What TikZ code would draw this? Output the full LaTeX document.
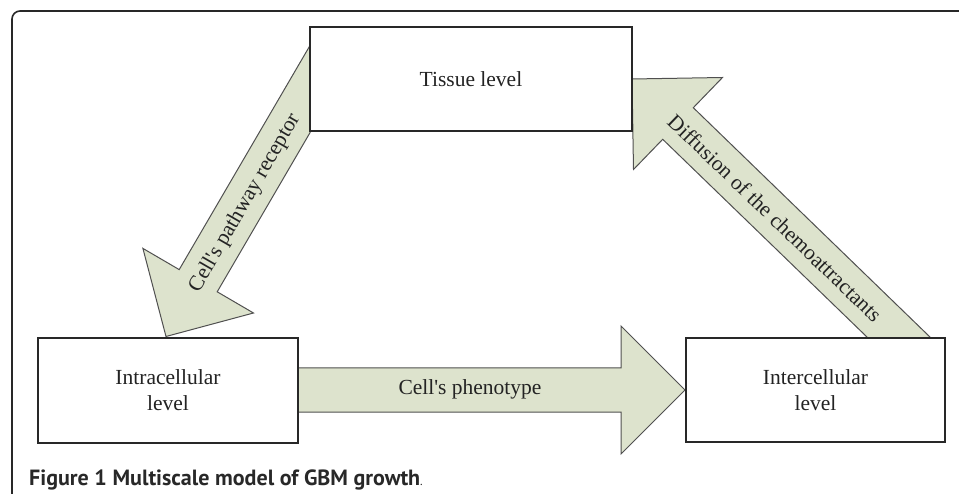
\documentclass[tikz,border=0pt]{standalone}
\usepackage{fontspec}
\setmainfont{Liberation Serif}
\newfontfamily\capfont{PT Sans}
\definecolor{arrowfill}{RGB}{221,227,205}
\definecolor{arrowline}{RGB}{80,80,80}
\definecolor{boxline}{RGB}{40,40,40}
\definecolor{txt}{RGB}{35,35,35}
\begin{document}
\begin{tikzpicture}[x=1pt,y=-1pt,
  levelbox/.style={draw=boxline, line width=1.3pt, fill=white, inner sep=0pt, align=center,
    text=txt, font=\fontsize{21.5}{26}\selectfont},
  bigarrow/.style={draw=arrowline, line width=1pt, fill=arrowfill, line join=miter},
  arrowtext/.style={text=txt, font=\fontsize{21.5}{26}\selectfont, inner sep=0pt}]
\useasboundingbox (0,0) rectangle (959,494);
% frame
\draw[line width=1.6pt, color=boxline, rounded corners=8pt] (959,11) -- (12,11) -- (12,494);
% block arrows
\draw[bigarrow] (297,368) -- (621,368) -- (621,326) -- (685,390) -- (621,454) -- (621,412) -- (297,412) -- cycle;
\draw[bigarrow] (310,45.5) -- (179.2,269.6) -- (142.9,248.4) -- (166,336.5) -- (253.5,313) -- (217.2,291.8) -- (310,132.7) -- cycle;
\draw[bigarrow] (868,338) -- (662.7,139.3) -- (633.5,169.5) -- (632,79) -- (722.5,77.5) -- (693.3,107.7) -- (931,338) -- cycle;
% boxes
\node[levelbox, minimum width=322pt, minimum height=104pt] (tissue) at (471,79) {Tissue level};
\node[levelbox, minimum width=260pt, minimum height=105pt] (intra) at (168,390.5) {Intracellular\\level};
\node[levelbox, minimum width=259pt, minimum height=104pt] (inter) at (815.5,390) {Intercellular\\level};
% arrow labels
\node[arrowtext] (phen) at (470,389) {Cell\textquotesingle s phenotype};
\node[arrowtext, rotate=60] (path) at (245,203) {Cell\textquotesingle s pathway receptor};
\node[arrowtext, rotate=-44] (diff) at (775,218) {Diffusion of the chemoattractants};
% caption
\node[anchor=base west, inner sep=0pt, text=boxline] (cap) at (29,485)
  {\resizebox{391pt}{!}{\capfont\bfseries Figure 1 Multiscale model of GBM growth}{\capfont\fontsize{12}{14}\selectfont.}};
\end{tikzpicture}
\end{document}
